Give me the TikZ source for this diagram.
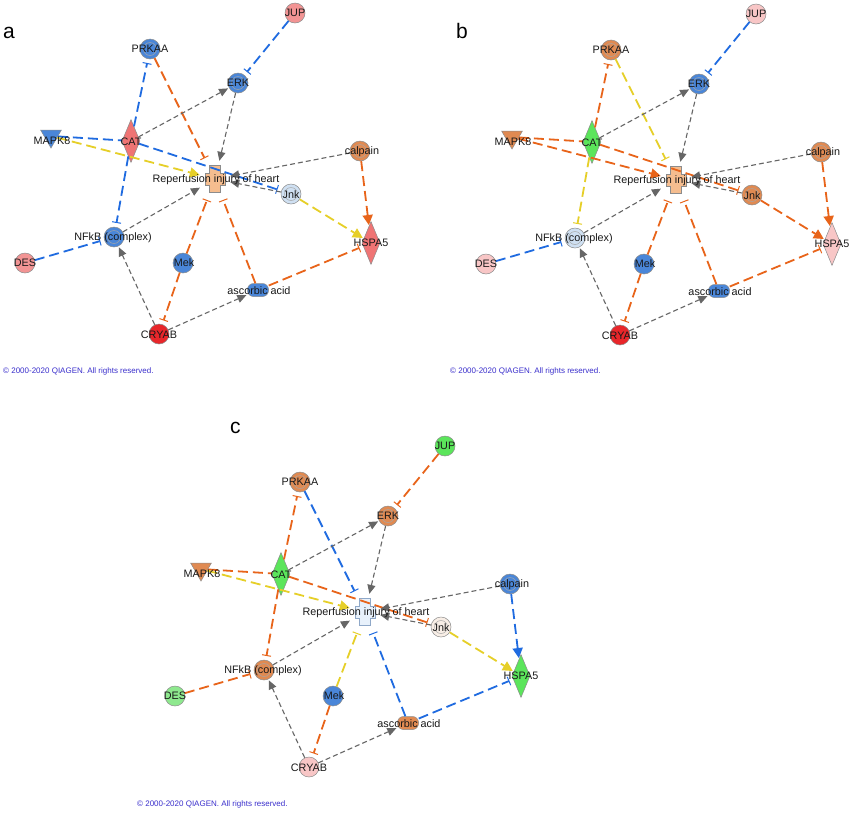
\documentclass[tikz,border=0pt]{standalone}
\usepackage{fontspec}
\setmainfont{Liberation Sans}
\usetikzlibrary{shapes.geometric,arrows.meta}
\definecolor{nblue}{HTML}{4A86D8}
\definecolor{nlblue}{HTML}{CFE0F2}
\definecolor{nsalL}{HTML}{F29494}
\definecolor{nsal}{HTML}{EF7474}
\definecolor{nred}{HTML}{E8262A}
\definecolor{npink}{HTML}{F8C6C6}
\definecolor{norange}{HTML}{E08A52}
\definecolor{ngreen}{HTML}{5BE55B}
\definecolor{nlgreen}{HTML}{8EE88E}
\definecolor{npeach}{HTML}{F5BD8F}
\definecolor{nrepc}{HTML}{E8F1FB}
\definecolor{nrepcd}{HTML}{8FA8C8}
\definecolor{nwhite}{HTML}{F8EEE6}
\definecolor{eblue}{HTML}{1F6BE0}
\definecolor{eorange}{HTML}{E8641A}
\definecolor{eyellow}{HTML}{E6CF28}
\definecolor{egray}{HTML}{666666}
\definecolor{copyc}{HTML}{3A2FCC}
\tikzset{
  nd/.style={draw=black!45, line width=0.5pt, inner sep=0pt},
  circ/.style={nd, circle, minimum size=20pt},
  grp/.style={path picture={\draw[black!35, line width=0.5pt] (path picture bounding box.center) circle (6.5pt);}},
  dia/.style={nd, diamond, minimum width=18pt, minimum height=43pt},
  tri/.style={nd, regular polygon, regular polygon sides=3, shape border rotate=180, minimum size=24pt},
  chem/.style={nd, rectangle, rounded corners=6pt, minimum width=21pt, minimum height=13pt},
  repbox/.style={rectangle, minimum width=28pt, minimum height=34pt, inner sep=0pt},
  lbl/.style={inner sep=0pt, text=black!90, font=\fontsize{10.8}{12}\selectfont, text height=7.7pt, text depth=0pt},
  dsh/.style={line width=1.8pt, dash pattern=on 10pt off 5pt},
  gr/.style={draw=egray, line width=1.1pt, dash pattern=on 5pt off 3pt, -{Triangle[length=9pt,width=8pt]}, shorten >=1pt},
  act/.style={dsh, -{Triangle[length=10pt,width=10pt]}, shorten >=1pt},
  inh/.style={dsh, -{Bar[width=9pt,line width=1pt]}, shorten >=4pt},
  plbl/.style={inner sep=0pt, anchor=base west, font=\fontsize{21}{24}\selectfont},
  copy/.style={inner sep=0pt, anchor=west, text=copyc, font=\fontsize{8}{9}\selectfont}
}
\newcommand\drawnet{%
  \node[circ,fill=cJUP] (JUP) at (295,13) {};
  \node[circ,grp,fill=cPRKAA] (PRKAA) at (150,49) {};
  \node[circ,grp,fill=cERK] (ERK) at (238,83) {};
  \node[tri,fill=cMAPK] (MAPK8) at (51,136) {};
  \node[dia,fill=cCAT] (CAT) at (131,141) {};
  \node[circ,grp,fill=cCALP] (calpain) at (360,151) {};
  \filldraw[fill=cREP,draw=cREPd,line width=0.6pt] (209.5,165.5) -- (220.5,165.5) -- (220.5,173) -- (225,173) -- (225,185) -- (220.5,185) -- (220.5,192.5) -- (209.5,192.5) -- (209.5,185) -- (205,185) -- (205,173) -- (209.5,173) -- cycle;
  \node[repbox] (Rep) at (215,179) {};
  \node[circ,grp,fill=cJNK] (Jnk) at (291,194) {};
  \node[circ,grp,fill=cNFKB] (NFkB) at (114,237) {};
  \node[circ,fill=cDES] (DES) at (25,263) {};
  \node[dia,fill=cHSPA] (HSPA5) at (371,243) {};
  \node[circ,fill=cMEK] (Mek) at (183,263) {};
  \node[chem,fill=cASC] (asc) at (258,290) {};
  \node[circ,fill=cCRY] (CRYAB) at (159,334) {};
  \draw[inh,draw=eJUP] (JUP) -- (ERK);
  \draw[inh,draw=ePRK] (PRKAA) -- (Rep);
  \draw[inh,draw=eCATP] (CAT) -- (PRKAA);
  \draw[gr] (CAT) -- (ERK);
  \draw[gr] (ERK) -- (Rep);
  \draw[dsh,draw=eMAPC] (MAPK8) -- (CAT);
  \draw[act,draw=eMAPR] (MAPK8) -- (Rep);
  \draw[inh,draw=eCATJ] (CAT) -- (Jnk);
  \draw[inh,draw=eCATN] (CAT) -- (NFkB);
  \draw[gr] (calpain) -- (Rep);
  \draw[act,draw=eCALH] (calpain) -- (HSPA5);
  \draw[gr] (Jnk) -- (Rep);
  \draw[act,draw=eJNKH] (Jnk) -- (HSPA5);
  \draw[gr] (NFkB) -- (Rep);
  \draw[inh,draw=eDES] (DES) -- (NFkB);
  \draw[inh,draw=eMEKR] (Mek) -- (Rep);
  \draw[inh,draw=eMEKC] (Mek) -- (CRYAB);
  \draw[inh,draw=eASCR] (asc) -- (Rep);
  \draw[inh,draw=eASCH] (asc) -- (HSPA5);
  \draw[gr] (CRYAB) -- (NFkB);
  \draw[gr] (CRYAB) -- (asc);
  \node[lbl] (JUPt) at (295,13) {JUP};
  \node[lbl] (PRKAAt) at (150,49) {PRKAA};
  \node[lbl] (ERKt) at (238,83) {ERK};
  \node[lbl] (MAPK8t) at (52,141) {MAPK8};
  \node[lbl] (CATt) at (131,142) {CAT};
  \node[lbl] (calpaint) at (362,151) {calpain};
  \node[lbl] (Rept) at (216,179) {Reperfusion injury of heart};
  \node[lbl] (Jnkt) at (291,195) {Jnk};
  \node[lbl] (NFkBt) at (113,237) {NFkB (complex)};
  \node[lbl] (DESt) at (25,263) {DES};
  \node[lbl] (HSPA5t) at (371,243) {HSPA5};
  \node[lbl] (Mekt) at (184,263) {Mek};
  \node[lbl] (asct) at (259,291) {ascorbic acid};
  \node[lbl] (CRYABt) at (159,335) {CRYAB};
}
\begin{document}
\begin{tikzpicture}[x=1pt,y=-1pt]
\fill[white] (0,0) rectangle (850,820);
\useasboundingbox (0,0) rectangle (850,820);
% panel a
\begin{scope}[name prefix=a-]
  \colorlet{cJUP}{nsalL}\colorlet{cPRKAA}{nblue}\colorlet{cERK}{nblue}
  \colorlet{cMAPK}{nblue}\colorlet{cCAT}{nsal}\colorlet{cCALP}{norange}
  \colorlet{cREP}{npeach}\colorlet{cREPd}{black!45}\colorlet{cJNK}{nlblue}
  \colorlet{cNFKB}{nblue}\colorlet{cDES}{nsalL}\colorlet{cHSPA}{nsal}
  \colorlet{cMEK}{nblue}\colorlet{cASC}{nblue}\colorlet{cCRY}{nred}
  \colorlet{eJUP}{eblue}\colorlet{ePRK}{eorange}\colorlet{eCATP}{eblue}
  \colorlet{eMAPC}{eblue}\colorlet{eMAPR}{eyellow}\colorlet{eCATJ}{eblue}
  \colorlet{eCATN}{eblue}\colorlet{eCALH}{eorange}\colorlet{eJNKH}{eyellow}
  \colorlet{eDES}{eblue}\colorlet{eMEKR}{eorange}\colorlet{eMEKC}{eorange}
  \colorlet{eASCR}{eorange}\colorlet{eASCH}{eorange}
  \drawnet
\end{scope}
% panel b
\begin{scope}[shift={(461,1)},name prefix=b-]
  \colorlet{cJUP}{npink}\colorlet{cPRKAA}{norange}\colorlet{cERK}{nblue}
  \colorlet{cMAPK}{norange}\colorlet{cCAT}{ngreen}\colorlet{cCALP}{norange}
  \colorlet{cREP}{npeach}\colorlet{cREPd}{black!45}\colorlet{cJNK}{norange}
  \colorlet{cNFKB}{nlblue}\colorlet{cDES}{npink}\colorlet{cHSPA}{npink}
  \colorlet{cMEK}{nblue}\colorlet{cASC}{nblue}\colorlet{cCRY}{nred}
  \colorlet{eJUP}{eblue}\colorlet{ePRK}{eyellow}\colorlet{eCATP}{eorange}
  \colorlet{eMAPC}{eorange}\colorlet{eMAPR}{eorange}\colorlet{eCATJ}{eorange}
  \colorlet{eCATN}{eyellow}\colorlet{eCALH}{eorange}\colorlet{eJNKH}{eorange}
  \colorlet{eDES}{eblue}\colorlet{eMEKR}{eorange}\colorlet{eMEKC}{eorange}
  \colorlet{eASCR}{eorange}\colorlet{eASCH}{eorange}
  \drawnet
\end{scope}
% panel c
\begin{scope}[shift={(150,433)},name prefix=c-]
  \colorlet{cJUP}{ngreen}\colorlet{cPRKAA}{norange}\colorlet{cERK}{norange}
  \colorlet{cMAPK}{norange}\colorlet{cCAT}{ngreen}\colorlet{cCALP}{nblue}
  \colorlet{cREP}{nrepc}\colorlet{cREPd}{nrepcd}\colorlet{cJNK}{nwhite}
  \colorlet{cNFKB}{norange}\colorlet{cDES}{nlgreen}\colorlet{cHSPA}{ngreen}
  \colorlet{cMEK}{nblue}\colorlet{cASC}{norange}\colorlet{cCRY}{npink}
  \colorlet{eJUP}{eorange}\colorlet{ePRK}{eblue}\colorlet{eCATP}{eorange}
  \colorlet{eMAPC}{eorange}\colorlet{eMAPR}{eyellow}\colorlet{eCATJ}{eorange}
  \colorlet{eCATN}{eorange}\colorlet{eCALH}{eblue}\colorlet{eJNKH}{eyellow}
  \colorlet{eDES}{eorange}\colorlet{eMEKR}{eyellow}\colorlet{eMEKC}{eorange}
  \colorlet{eASCR}{eblue}\colorlet{eASCH}{eblue}
  \drawnet
\end{scope}
\node[plbl] (la) at (3,38) {a};
\node[plbl] (lb) at (456,38) {b};
\node[plbl] (lc) at (230,433) {c};
\node[copy] (cpa) at (3,371) {© 2000-2020 QIAGEN. All rights reserved.};
\node[copy] (cpb) at (450,371) {© 2000-2020 QIAGEN. All rights reserved.};
\node[copy] (cpc) at (137,804) {© 2000-2020 QIAGEN. All rights reserved.};
\end{tikzpicture}
\end{document}
